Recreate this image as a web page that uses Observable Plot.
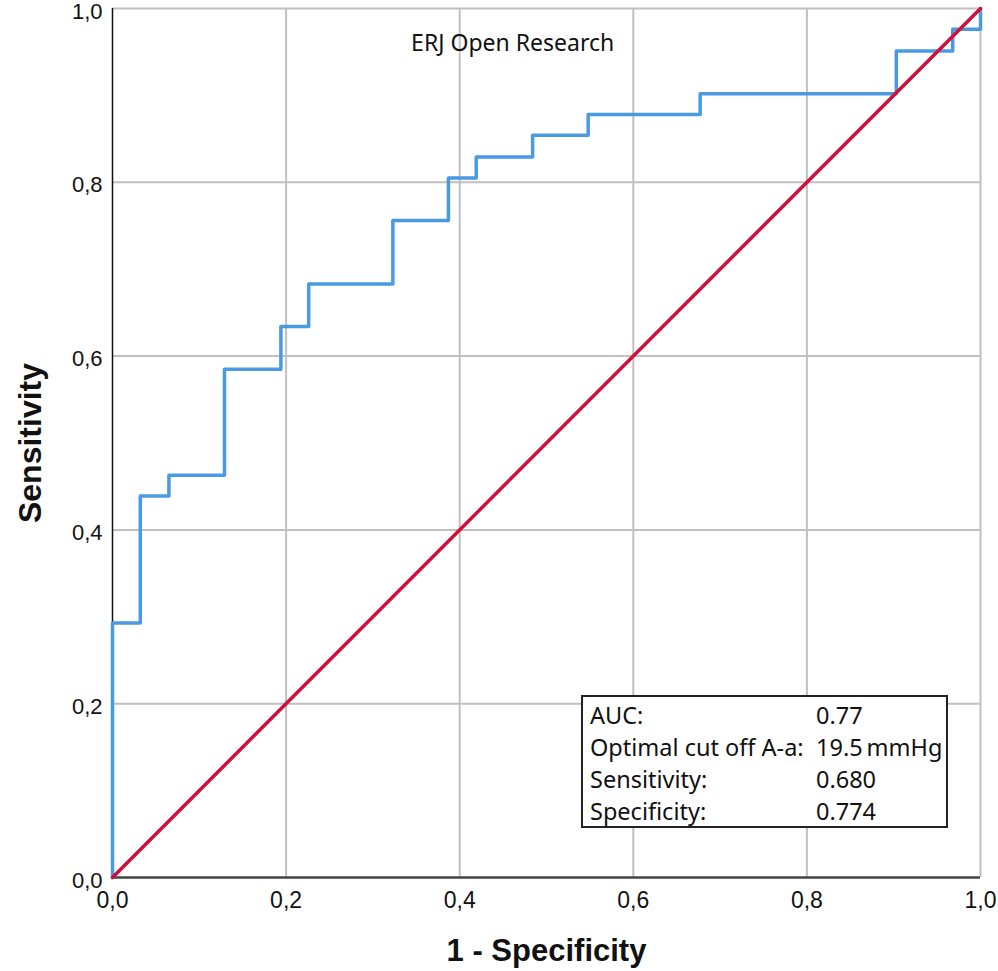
<!DOCTYPE html>
<html>
<head>
<meta charset="utf-8">
<script src="https://cdn.jsdelivr.net/npm/d3@7"></script>
<script src="https://cdn.jsdelivr.net/npm/@observablehq/plot@0.6"></script>
<style>
  html, body { margin: 0; padding: 0; background: #fff; }
  #wrap { position: relative; width: 998px; height: 971px; overflow: hidden; }
  #legend {
    position: absolute; left: 581px; top: 695px; width: 363px; height: 129px;
    border: 2px solid #222; background: #fff;
    font-family: "Noto Sans", sans-serif; font-size: 23.5px; color: #111;
    box-sizing: content-box;
  }
  #legend table { border-collapse: collapse; margin-left: 7px; margin-top: 2px; }
  #legend td { padding: 0; height: 32px; line-height: 32px; white-space: nowrap; }
  #legend td.l { width: 226px; }
</style>
</head>
<body>
<div id="wrap"></div>
<script>
// ROC curve vertices (1 - specificity, sensitivity), stepped
const fpr = [0, 0, 0.032, 0.065, 0.129, 0.194, 0.226, 0.323, 0.387, 0.419, 0.484, 0.548, 0.677, 0.903, 0.968, 1.0];
const tpr = [0, 0.293, 0.439, 0.463, 0.585, 0.634, 0.683, 0.756, 0.805, 0.829, 0.854, 0.878, 0.902, 0.951, 0.976, 1.0];
// reference diagonal
const diagX = [0, 1];
const diagY = [0, 1];
const ticks = [0, 0.2, 0.4, 0.6, 0.8, 1.0];
const legendLabels = ["AUC:", "Optimal cut off A-a:", "Sensitivity:", "Specificity:"];
const legendValues = ["0.77", "19.5\u2009mmHg", "0.680", "0.774"];
const annotation = [{x: 0.461, y: 0.96, text: "ERJ Open Research"}];

const roc = fpr.map((x, i) => ({x, y: tpr[i]}));
const diag = diagX.map((x, i) => ({x, y: diagY[i]}));
const fmt = d => d3.format(".1f")(d).replace(".", ",");
const arial = "'Liberation Sans', Arial, sans-serif";

const chart = Plot.plot({
  width: 998,
  height: 971,
  marginLeft: 112,
  marginRight: 18,
  marginTop: 8,
  marginBottom: 94,
  style: {fontFamily: arial, color: "#111", background: "#fff", overflow: "visible"},
  x: {domain: [0, 1], ticks, label: null},
  y: {domain: [0, 1], ticks, label: null},
  marks: [
    Plot.ruleX(ticks.slice(1), {stroke: "#c0c0c0", strokeWidth: 2}),
    Plot.ruleY(ticks.slice(1), {stroke: "#c0c0c0", strokeWidth: 2}),
    Plot.axisX({ticks, tickSize: 0, tickPadding: 14, tickFormat: fmt, fontSize: 23, label: null, fill: "#111"}),
    Plot.axisY({ticks, tickSize: 0, tickPadding: 10, tickFormat: fmt, fontSize: 22, dy: 3, label: null, fill: "#111"}),
    Plot.ruleY([0], {stroke: "#444", strokeWidth: 2.5}),
    Plot.ruleX([0], {stroke: "#111", strokeWidth: 1.5}),
    Plot.line(roc, {x: "x", y: "y", curve: "step-after", stroke: "#4a9ae3", strokeWidth: 3.5}),
    Plot.line(diag, {x: "x", y: "y", stroke: "#d0103a", strokeWidth: 3.5}),
    Plot.text(annotation, {x: "x", y: "y", text: "text", fontSize: 23, fill: "#111", fontFamily: "'Noto Sans', sans-serif"}),
    Plot.text(["1 - Specificity"], {frameAnchor: "bottom", textAnchor: "middle", dy: 83, fontSize: 31, fontWeight: "bold", fill: "#111", fontFamily: arial}),
    Plot.text(["Sensitivity"], {frameAnchor: "left", textAnchor: "middle", dx: -82, rotate: -90, fontSize: 32, fontWeight: "bold", fill: "#111", fontFamily: arial})
  ]
});

const wrap = document.getElementById("wrap");
wrap.appendChild(chart);

const legend = document.createElement("div");
legend.id = "legend";
const table = document.createElement("table");
legendLabels.forEach((l, i) => {
  const tr = document.createElement("tr");
  const a = document.createElement("td"); a.className = "l"; a.textContent = l;
  const b = document.createElement("td"); b.textContent = legendValues[i];
  tr.appendChild(a); tr.appendChild(b); table.appendChild(tr);
});
legend.appendChild(table);
wrap.appendChild(legend);
</script>
</body>
</html>
